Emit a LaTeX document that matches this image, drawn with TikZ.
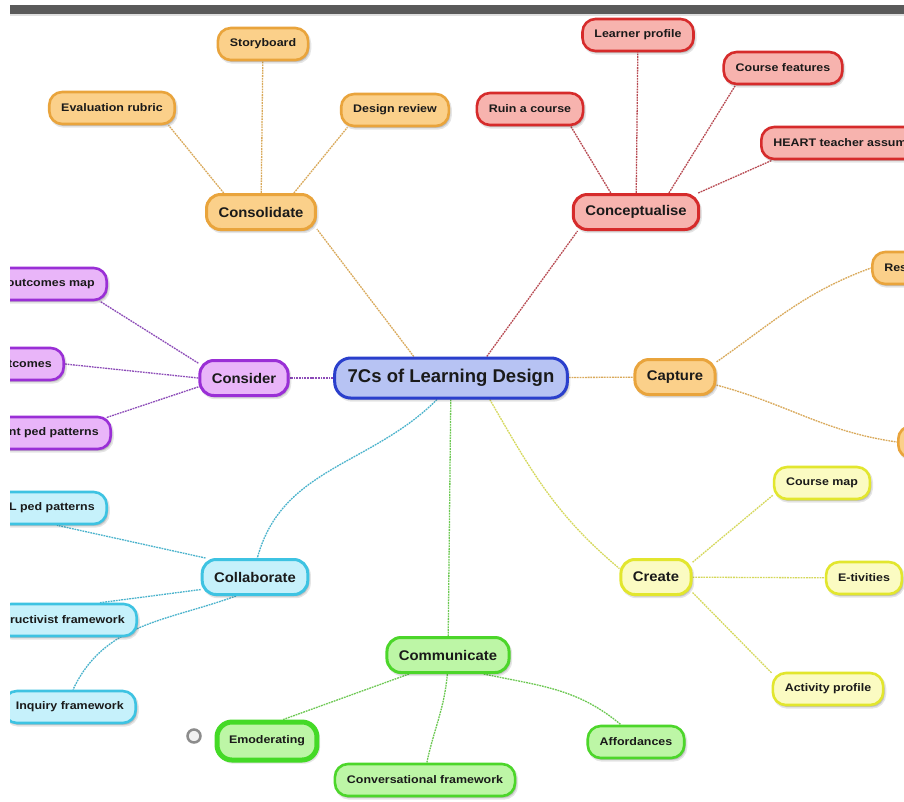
\documentclass[tikz,border=0pt]{standalone}
\usepackage{fontspec}
\setmainfont{Liberation Sans}
\newfontfamily\leaffont{Liberation Sans}[FakeStretch=1.13]
\newfontfamily\branchfont{Liberation Sans}[FakeStretch=1.06]

% branch colours: border / fill / connector
\definecolor{orB}{HTML}{E9A43C}\definecolor{orF}{HTML}{FBD08A}\definecolor{orL}{HTML}{D9A95A}
\definecolor{rdB}{HTML}{D62B2B}\definecolor{rdF}{HTML}{F7B3AE}\definecolor{rdL}{HTML}{B84A52}
\definecolor{puB}{HTML}{9A2FD6}\definecolor{puF}{HTML}{E9B5F9}\definecolor{puL}{HTML}{8C4BB8}
\definecolor{cyB}{HTML}{3EC3E2}\definecolor{cyF}{HTML}{C6F1FB}\definecolor{cyL}{HTML}{4AB3CC}
\definecolor{grB}{HTML}{4CD62A}\definecolor{grF}{HTML}{BDF6A6}\definecolor{grL}{HTML}{6CC852}
\definecolor{yeB}{HTML}{E2E62E}\definecolor{yeF}{HTML}{FBFBC2}\definecolor{yeL}{HTML}{D5D85A}
\definecolor{blB}{HTML}{2A3FCC}\definecolor{blF}{HTML}{B7C3F3}
\definecolor{txt}{HTML}{1A1A1A}
\definecolor{barGray}{HTML}{5A5A5A}

\pgfdeclarelayer{paper}
\pgfdeclarelayer{links}
\pgfsetlayers{paper,links,main}

\tikzset{
  % soft offset shadow under every box: two translucent copies of its outline
  mapnode/.style={rectangle, text=txt, line width=2.6pt,
    preaction={draw=black, draw opacity=0.10, line width=3pt, fill=black, fill opacity=0.12,
      transform canvas={xshift=1.6pt, yshift=-2.2pt}},
    preaction={draw=none, fill=black, fill opacity=0.10,
      transform canvas={xshift=1pt, yshift=-1.4pt}}},
  leaf/.style={mapnode, font=\leaffont\bfseries\fontsize{11}{13}\selectfont,
    minimum height=32pt, rounded corners=13pt, inner xsep=12pt, inner ysep=0pt},
  branch/.style={mapnode, font=\branchfont\bfseries\fontsize{14}{16}\selectfont,
    minimum height=35pt, rounded corners=14pt, inner xsep=12pt, inner ysep=0pt, line width=3pt},
  hub/.style={mapnode, font=\bfseries\fontsize{18.5}{20}\selectfont,
    minimum height=40pt, rounded corners=16pt, inner xsep=13pt, inner ysep=0pt, line width=3pt,
    draw=blB, fill=blF},
  cOr/.style={draw=orB, fill=orF},
  cRd/.style={draw=rdB, fill=rdF},
  cPu/.style={draw=puB, fill=puF},
  cCy/.style={draw=cyB, fill=cyF},
  cGr/.style={draw=grB, fill=grF},
  cYe/.style={draw=yeB, fill=yeF},
  link/.style={line width=1.3pt, dash pattern=on 1.8pt off 0.9pt},
  lnOr/.style={link, draw=orL},
  lnRd/.style={link, draw=rdL},
  lnPu/.style={link, draw=puL},
  lnCy/.style={link, draw=cyL},
  lnGr/.style={link, draw=grL},
  lnYe/.style={link, draw=yeL},
}

\begin{document}
\begin{tikzpicture}[x=1pt,y=1pt]
\useasboundingbox (0,0) rectangle (904,-801);
\begin{pgfonlayer}{paper}
\fill[white] (0,0) rectangle (904,-801);
\end{pgfonlayer}

% window title strip
\fill[barGray] (10,-5) rectangle (904,-14);
\fill[black!12] (10,-14) rectangle (904,-16);

\begin{scope}
\clip (10,-16) rectangle (904,-801);

% hub
\node[hub] (ctr) at (451,-378) {7Cs of Learning Design};

% Consolidate
\node[branch, cOr] (cons) at (261,-212) {Consolidate};
\node[leaf, cOr] (story) at (263,-44) {Storyboard};
\node[leaf, cOr] (evalr) at (112,-108) {Evaluation rubric};
\node[leaf, cOr] (desrev) at (395,-110) {Design review};

% Conceptualise
\node[branch, cRd] (concept) at (636,-212) {Conceptualise};
\node[leaf, cRd] (learner) at (638,-35) {Learner profile};
\node[leaf, cRd] (coursef) at (783,-68) {Course features};
\node[leaf, cRd] (ruin) at (530,-109) {Ruin a course};
\node[leaf, cRd, anchor=west] (heart) at (760,-143) {HEART teacher assum};

% Capture
\node[branch, cOr] (capture) at (675,-377) {Capture};
\node[leaf, cOr, anchor=west] (res) at (871,-268) {Res};
\node[leaf, cOr, anchor=west, minimum width=40pt] (capt2) at (897,-442) {};

% Consider
\node[branch, cPu] (consider) at (244,-378) {Consider};
\node[leaf, cPu, anchor=east] (omap) at (108,-284) {outcomes map};
\node[leaf, cPu, anchor=east] (outc) at (65,-364) {tcomes};
\node[leaf, cPu, anchor=east] (pedp) at (112,-433) {nt ped patterns};

% Collaborate
\node[branch, cCy] (collab) at (255,-577) {Collaborate};
\node[leaf, cCy, anchor=east] (lped) at (108,-508) {L ped patterns};
\node[leaf, cCy, anchor=east] (cstr) at (138,-620) {ructivist framework};
\node[leaf, cCy, anchor=east] (inq) at (137,-707) {Inquiry framework};

% Communicate
\node[branch, cGr] (comm) at (448,-655) {Communicate};
\node[leaf, cGr, line width=5pt, draw=grB!90!green, minimum height=38pt, rounded corners=15pt] (emod) at (267,-741) {Emoderating};
\node[leaf, cGr] (conv) at (425,-780) {Conversational framework};
\node[leaf, cGr] (aff) at (636,-742) {Affordances};
\node[circle, draw=black!45, fill=black!6, line width=2.5pt, minimum size=13pt, inner sep=0pt] (knob) at (194,-736) {};

% Create
\node[branch, cYe] (create) at (656,-577) {Create};
\node[leaf, cYe] (cmap) at (822,-483) {Course map};
\node[leaf, cYe] (etiv) at (864,-578) {E-tivities};
\node[leaf, cYe] (actp) at (828,-689) {Activity profile};
\end{scope}

\begin{pgfonlayer}{links}
% hub to branches
\draw[lnOr] (ctr.150) -- (cons.343);
\draw[lnRd] (ctr.31) -- (concept.198);
\draw[lnOr] (ctr) -- (capture);
\draw[lnPu] (ctr) -- (consider);
\draw[lnCy] (ctr.237) to[out=225,in=75] (collab.83);
\draw[lnGr] (ctr) -- (comm);
\draw[lnYe] (ctr.331) to[out=300,in=140] (create.167);

% Consolidate
\draw[lnOr] (cons) -- (story);
\draw[lnOr] (cons.153) -- (evalr.343);
\draw[lnOr] (cons.30) -- (desrev.200);

% Conceptualise
\draw[lnRd] (concept.143) -- (ruin.337);
\draw[lnRd] (concept) -- (learner);
\draw[lnRd] (concept.30) -- (coursef.200);
\draw[lnRd] (concept.17) -- ([xshift=12pt]heart.south west);

% Capture
\draw[lnOr] (capture.20) to[out=35,in=200] (res.west);
\draw[lnOr] (capture.349) to[out=-15,in=172] (capt2.west);

% Consider
\draw[lnPu] (consider.162) -- ([xshift=-8pt]omap.south east);
\draw[lnPu] (consider.west) -- (outc.east);
\draw[lnPu] (consider.191) -- ([xshift=-6pt,yshift=-2pt]pedp.north east);

% Collaborate
\draw[lnCy] (collab.159) -- ([xshift=-51pt]lped.south east);
\draw[lnCy] (collab.193) -- ([xshift=-38pt]cstr.north east);
\draw[lnCy] (collab.225) to[out=200,in=65] ([xshift=-64pt]inq.north east);

% Communicate
\draw[lnGr] (comm.206) -- (emod.53);
\draw[lnGr] (comm.268) to[out=265,in=78] (conv.84);
\draw[lnGr] (comm.332) to[out=-12,in=140] (aff.131);

% Create
\draw[lnYe] (create.22) -- (cmap.194);
\draw[lnYe] (create) -- (etiv);
\draw[lnYe] (create.337) -- (actp.164);
\end{pgfonlayer}
\end{tikzpicture}
\end{document}
